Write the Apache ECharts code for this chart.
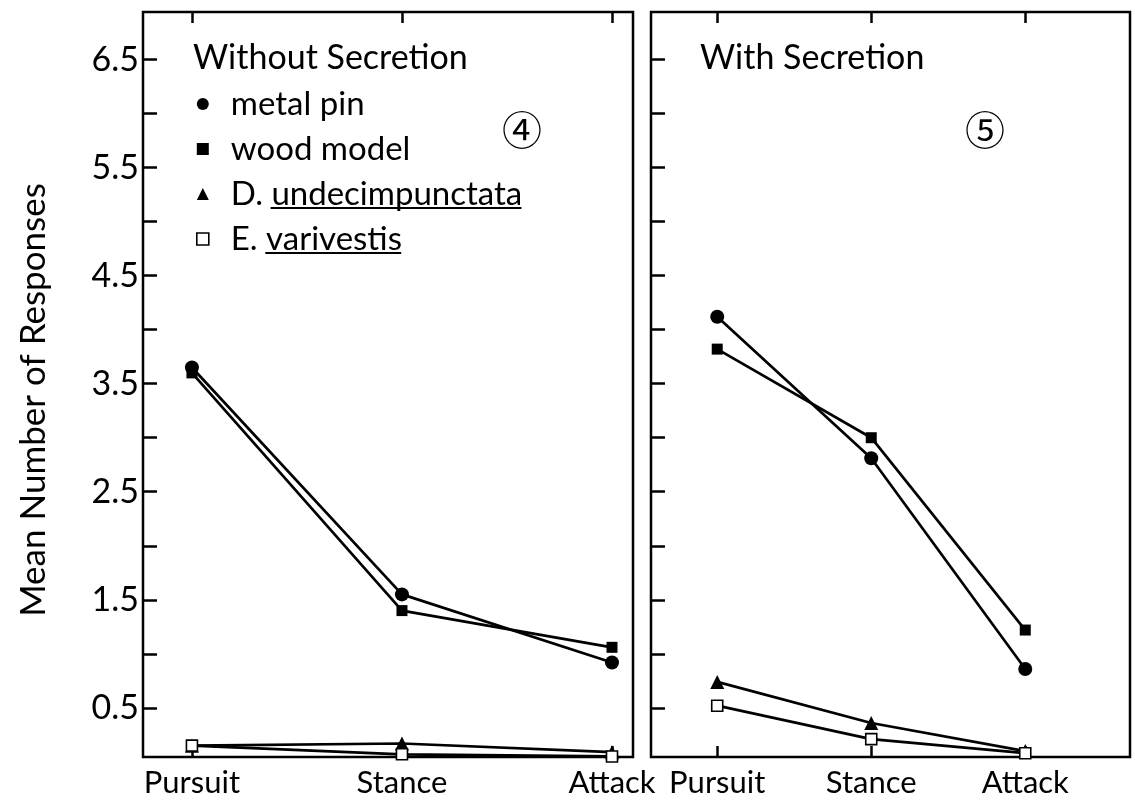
<!DOCTYPE html>
<html>
<head>
<meta charset="utf-8">
<script src="https://cdn.jsdelivr.net/npm/echarts@6/dist/echarts.min.js"></script>
<style>
html,body{margin:0;padding:0;background:#fff;}
#chart{width:1135px;height:803px;}
</style>
</head>
<body>
<div id="chart"></div>
<script>
const categories = ['Pursuit', 'Stance', 'Attack'];
const seriesNames = ['metal pin', 'wood model', 'D. undecimpunctata', 'E. varivestis'];
const panelTitles = ['Without Secretion', 'With Secretion'];
const panelNumbers = ['④', '⑤'];

const withoutMetal = [3.65, 1.55, 0.92];
const withoutWood  = [3.60, 1.40, 1.06];
const withoutUndec = [0.15, 0.17, 0.09];
const withoutVariv = [0.15, 0.07, 0.05];

const withMetal = [4.12, 2.81, 0.86];
const withWood  = [3.82, 3.00, 1.22];
const withUndec = [0.74, 0.36, 0.10];
const withVariv = [0.52, 0.21, 0.08];

const yTickValues  = [0.5, 1, 1.5, 2, 2.5, 3, 3.5, 4, 4.5, 5, 5.5, 6, 6.5];
const yLabelValues = [0.5, 1.5, 2.5, 3.5, 4.5, 5.5, 6.5];
const yName = 'Mean Number of Responses';

const FONT = 'Lato';
const BLACK = '#000';
const catIdx = categories.map((c, i) => i);

const markerStyles = [
  {symbol: 'circle', symbolSize: 14, itemStyle: {color: BLACK}},
  {symbol: 'rect', symbolSize: 11, itemStyle: {color: BLACK}},
  {symbol: 'triangle', symbolSize: 14, itemStyle: {color: BLACK}},
  {symbol: 'rect', symbolSize: 11, itemStyle: {color: '#fff', borderColor: BLACK, borderWidth: 1.6}}
];

const panels = [
  {data: [withoutMetal, withoutWood, withoutUndec, withoutVariv], xmin: -0.233, xmax: 2.1},
  {data: [withMetal, withWood, withUndec, withVariv], xmin: -0.43, xmax: 2.68}
];

const grids = [
  {left: 143, top: 12, width: 490, height: 745},
  {left: 651, top: 12, width: 479, height: 745}
].map(g => Object.assign(g, {show: true, borderColor: BLACK, borderWidth: 2.5, backgroundColor: 'transparent'}));

const xAxes = [];
const yAxes = [];
const series = [];

panels.forEach((p, gi) => {
  xAxes.push({
    type: 'value', gridIndex: gi, position: 'bottom', min: p.xmin, max: p.xmax,
    splitLine: {show: false}, axisLine: {show: false, onZero: false},
    axisTick: {show: true, inside: true, length: 11, customValues: catIdx, lineStyle: {color: BLACK, width: 2.5}},
    axisLabel: {show: true, customValues: catIdx, formatter: v => categories[Math.round(v)],
      color: BLACK, fontFamily: FONT, fontSize: 31, margin: 10}
  });
  xAxes.push({
    type: 'value', gridIndex: gi, position: 'top', min: p.xmin, max: p.xmax,
    splitLine: {show: false}, axisLine: {show: false, onZero: false},
    axisTick: {show: true, inside: true, length: 11, customValues: catIdx, lineStyle: {color: BLACK, width: 2.5}},
    axisLabel: {show: false}
  });
  yAxes.push({
    type: 'value', gridIndex: gi, position: 'left', min: 0.045, max: 6.94,
    splitLine: {show: false}, axisLine: {show: false, onZero: false},
    axisTick: {show: true, inside: true, length: 14, customValues: yTickValues, lineStyle: {color: BLACK, width: 2.5}},
    axisLabel: {show: gi === 0, customValues: yLabelValues, formatter: v => v.toFixed(1),
      color: BLACK, fontFamily: FONT, fontSize: 34, margin: 4}
  });
  p.data.forEach((vals, si) => {
    series.push(Object.assign({
      type: 'line', name: seriesNames[si], xAxisIndex: gi * 2, yAxisIndex: gi,
      data: vals.map((v, i) => [i, v]),
      showSymbol: true, animation: false, clip: false,
      lineStyle: {color: BLACK, width: 2.7},
      z: 2 + si
    }, markerStyles[si]));
  });
});

const legendIcons = ['circle', 'rect', 'triangle', 'rect'];
const LEG_LEFT = 196, LEG_TOP = 87, LEG_ICON = 12, LEG_PAD = 17, LEG_FS = 33, LEG_LH = 34, LEG_GAP = 11;
const textX = LEG_LEFT + LEG_ICON + 5 + LEG_PAD;

// underlines under the species names (measured from the text itself)
const ctx = document.createElement('canvas').getContext('2d');
ctx.font = LEG_FS + 'px ' + FONT;
const underlines = [];
seriesNames.forEach((n, i) => {
  const m = n.match(/^(\w\.\s)(.+)$/);
  if (m) {
    const x1 = textX + ctx.measureText(m[1]).width;
    const x2 = x1 + ctx.measureText(m[2]).width;
    const y = LEG_TOP + i * (LEG_LH + LEG_GAP) + LEG_LH / 2 + 14;
    underlines.push({type: 'line', shape: {x1: x1, y1: y, x2: x2, y2: y}, style: {stroke: BLACK, lineWidth: 2}});
  }
});

const option = {
  backgroundColor: '#fff',
  animation: false,
  title: panelTitles.map((t, i) => ({
    text: t, left: i === 0 ? 193 : 700, top: 41, padding: 0,
    textStyle: {color: BLACK, fontFamily: FONT, fontSize: 34, fontWeight: 'normal'}
  })),
  legend: {
    show: true, orient: 'vertical', left: LEG_LEFT, top: LEG_TOP, itemGap: LEG_GAP, padding: 0,
    itemWidth: LEG_ICON, itemHeight: LEG_ICON, selectedMode: false,
    data: seriesNames.map((n, i) => ({
      name: n, icon: legendIcons[i],
      itemStyle: markerStyles[i].itemStyle
    })),
    textStyle: {color: BLACK, fontFamily: FONT, fontSize: LEG_FS, lineHeight: LEG_LH, padding: [0, 0, 0, LEG_PAD]}
  },
  graphic: [
    {type: 'text', x: 522, y: 130, style: {text: panelNumbers[0], font: '40px "Noto Sans CJK JP"', fill: BLACK, align: 'center', verticalAlign: 'middle'}},
    {type: 'text', x: 985, y: 130, style: {text: panelNumbers[1], font: '40px "Noto Sans CJK JP"', fill: BLACK, align: 'center', verticalAlign: 'middle'}},
    {type: 'text', x: 34, y: 400, rotation: Math.PI / 2, style: {text: yName, font: '35px ' + FONT, fill: BLACK, align: 'center', verticalAlign: 'middle'}}
  ].concat(underlines),
  grid: grids,
  xAxis: xAxes,
  yAxis: yAxes,
  series: series
};

const chart = echarts.init(document.getElementById('chart'), null, {renderer: 'canvas'});
chart.setOption(option);
</script>
</body>
</html>
